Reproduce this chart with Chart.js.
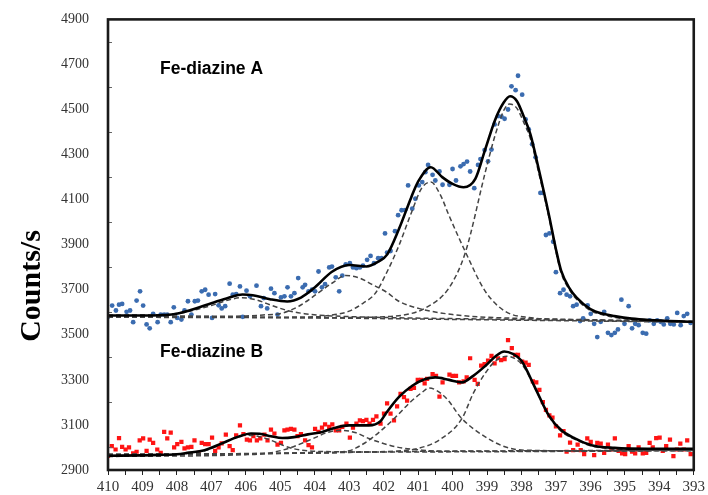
<!DOCTYPE html>
<html>
<head>
<meta charset="utf-8">
<title>N 1s — Fe-diazine</title>
<script src="https://cdn.jsdelivr.net/npm/chart.js@4/dist/chart.umd.min.js"></script>
<style>
  html, body { margin: 0; padding: 0; background: #fff; }
  #wrap { width: 708px; height: 495px; }
</style>
</head>
<body>
<div id="wrap"><canvas id="xps" width="708" height="495"></canvas></div>
<script>
// ------------------------------
// N 1s spectra, Fe-diazine A / B
// ------------------------------

// --- Axis ranges (binding energy, eV / counts per second) ---
const xMin = 393, xMax = 410;
const yMin = 2900, yMax = 4900;

// --- Sample labels ---
const labelA = 'Fe-diazine A';
const labelB = 'Fe-diazine B';
const yTitle = 'Counts/s';

// --- Measured points, sample A [eV, counts/s] ---
const pointsA = [
  [410.0,3580],[409.88,3630],[409.77,3608],[409.68,3634],[409.59,3637],[409.46,3602],[409.36,3608],[409.27,3556],
  [409.17,3652],[409.07,3693],[408.98,3630],[408.88,3546],[408.79,3529],[408.69,3593],[408.56,3556],[408.47,3590],
  [408.37,3590],[408.28,3590],[408.18,3556],[408.09,3622],[407.99,3575],[407.87,3568],[407.78,3608],[407.68,3649],
  [407.58,3590],[407.48,3649],[407.39,3652],[407.28,3693],[407.18,3700],[407.08,3678],[406.98,3575],[406.89,3681],
  [406.79,3631],[406.70,3617],[406.60,3627],[406.47,3727],[406.38,3678],[406.28,3681],[406.17,3715],[406.09,3580],
  [405.98,3696],[405.88,3671],[405.69,3718],[405.56,3627],[405.48,3663],[405.38,3617],[405.27,3705],[405.17,3685],
  [405.08,3590],[404.98,3666],[404.88,3671],[404.79,3711],[404.69,3671],[404.59,3685],[404.48,3752],[404.35,3711],
  [404.28,3722],[404.18,3693],[404.08,3700],[403.99,3693],[403.89,3781],[403.79,3711],[403.70,3725],[403.58,3799],
  [403.50,3803],[403.39,3755],[403.29,3693],[403.20,3763],[403.10,3813],[402.98,3818],[402.89,3799],[402.79,3796],
  [402.69,3799],[402.60,3807],[402.48,3833],[402.38,3850],[402.28,3818],[402.16,3840],[402.06,3840],[401.96,3950],
  [401.90,3865],[401.80,3872],[401.67,3960],[401.58,4031],[401.48,4053],[401.38,4053],[401.29,4163],[401.17,4060],
  [401.08,4104],[400.98,4163],[400.88,4178],[400.79,4222],[400.71,4254],[400.58,4210],[400.50,4185],[400.38,4225],
  [400.29,4166],[400.09,4166],[400.00,4236],[399.90,4185],[399.77,4248],[399.68,4258],[399.58,4269],[399.49,4225],
  [399.37,4151],[399.26,4254],[399.19,4280],[399.07,4320],[398.97,4270],[398.87,4322],[398.78,4434],[398.68,4471],
  [398.58,4468],[398.49,4459],[398.39,4500],[398.29,4603],[398.17,4586],[398.10,4650],[397.98,4566],[397.88,4456],
  [397.79,4412],[397.69,4346],[397.59,4288],[397.45,4130],[397.38,4130],[397.29,3943],[397.19,3950],[397.08,3913],
  [397.00,3778],[396.88,3685],[396.78,3700],[396.69,3678],[396.59,3671],[396.50,3627],[396.40,3634],[396.30,3561],
  [396.21,3573],[396.08,3631],[395.99,3593],[395.89,3549],[395.80,3490],[395.70,3558],[395.60,3602],[395.49,3509],
  [395.39,3499],[395.29,3509],[395.20,3524],[395.10,3656],[395.01,3549],[394.89,3627],[394.79,3529],[394.70,3549],
  [394.60,3543],[394.48,3509],[394.38,3505],[394.28,3564],[394.16,3549],[394.06,3564],[393.96,3558],[393.87,3546],
  [393.77,3573],[393.68,3549],[393.58,3546],[393.48,3597],[393.38,3543],[393.29,3583],[393.19,3593],[393.09,3553]
];

// --- Measured points, sample B [eV, counts/s] ---
const pointsB = [
  [410.0,2963],[409.89,3006],[409.78,2991],[409.68,3042],[409.59,3003],[409.49,2991],[409.39,3000],[409.27,2974],
  [409.17,2981],[409.08,3032],[408.98,3040],[408.88,2985],[408.79,3035],[408.69,3020],[408.57,2991],[408.47,2976],
  [408.37,3069],[408.28,3040],[408.18,3066],[408.08,3000],[407.99,3015],[407.87,3025],[407.78,2996],[407.68,3000],
  [407.58,3003],[407.49,3032],[407.37,2976],[407.28,3020],[407.18,3015],[407.08,3015],[406.98,3044],[406.89,2985],
  [406.79,3000],[406.70,3018],[406.58,3057],[406.47,3006],[406.38,2988],[406.28,3054],[406.17,3098],[406.07,3059],
  [405.97,3035],[405.88,3032],[405.78,3050],[405.68,3032],[405.58,3040],[405.46,3057],[405.37,3032],[405.27,3079],
  [405.17,3062],[405.08,3013],[404.98,3020],[404.88,3076],[404.79,3079],[404.69,3083],[404.59,3079],[404.50,3050],
  [404.40,3059],[404.28,3032],[404.18,3010],[404.08,3000],[403.99,3083],[403.89,3069],[403.79,3088],[403.70,3103],
  [403.58,3091],[403.49,3103],[403.39,3076],[403.29,3076],[403.20,3091],[403.08,3106],[402.98,3044],[402.89,3088],
  [402.79,3106],[402.69,3120],[402.60,3117],[402.50,3123],[402.41,3106],[402.31,3123],[402.21,3138],[402.09,3106],
  [401.99,3150],[401.90,3196],[401.80,3150],[401.70,3120],[401.61,3182],[401.51,3238],[401.41,3223],[401.32,3208],
  [401.22,3260],[401.12,3264],[401.01,3300],[400.91,3300],[400.81,3285],[400.74,3304],[400.58,3326],[400.48,3318],
  [400.38,3226],[400.29,3289],[400.09,3323],[400.00,3318],[399.90,3318],[399.81,3289],[399.68,3293],[399.59,3311],
  [399.49,3396],[399.36,3300],[399.27,3282],[399.17,3363],[399.07,3370],[398.97,3385],[398.87,3407],[398.78,3373],
  [398.68,3396],[398.59,3388],[398.49,3392],[398.39,3476],[398.28,3441],[398.18,3411],[398.10,3411],[397.98,3381],
  [397.88,3377],[397.79,3367],[397.67,3293],[397.57,3289],[397.48,3256],[397.38,3201],[397.29,3167],[397.19,3142],
  [397.10,3132],[397.00,3094],[396.88,3054],[396.78,3073],[396.69,2981],[396.59,3022],[396.50,2988],[396.37,3013],
  [396.28,2988],[396.18,2970],[396.09,3040],[395.99,3025],[395.89,2966],[395.80,3020],[395.70,3017],[395.60,2976],
  [395.49,3013],[395.39,2991],[395.29,3040],[395.18,2985],[395.08,2974],[394.99,2970],[394.89,3006],[394.79,2981],
  [394.70,2974],[394.60,3000],[394.48,2974],[394.38,2976],[394.28,3020],[394.19,3000],[394.09,3042],[393.99,3044],
  [393.90,2985],[393.80,3006],[393.69,3035],[393.59,2962],[393.49,2991],[393.39,3017],[393.29,2991],[393.19,3032],
  [393.09,2970]
];

// --- Envelope fits ---
const fitA = [
  [410,3586],[409,3586],[408.5,3587],[408.1,3591],[407.6,3610],[407.0,3640],[406.5,3665],[406.1,3679],[405.8,3676],
  [405.3,3658],[404.8,3648],[404.4,3665],[404.0,3710],[403.5,3780],[403.0,3810],[402.5,3803],[402.15,3825],[401.9,3856],
  [401.55,3972],[401.2,4110],[401.0,4180],[400.63,4244],[400.3,4200],[400.0,4170],[399.68,4155],[399.34,4192],
  [399.05,4324],[398.76,4456],[398.52,4530],[398.33,4559],[398.13,4537],[397.94,4471],[397.74,4390],[397.5,4236],
  [397.2,4030],[397.0,3880],[396.85,3785],[396.6,3705],[396.4,3665],[396.0,3614],[395.6,3592],[395.3,3583],
  [394.8,3572],[394.3,3566],[393,3558]
];
const fitB = [
  [410,2963],[409,2965],[408.5,2967],[408,2970],[407.7,2976],[407.2,2988],[406.7,3018],[406.23,3047],[405.85,3062],
  [405.6,3061],[405.27,3050],[404.94,3042],[404.6,3046],[404.2,3058],[403.78,3069],[403.4,3088],[403.0,3098],
  [402.43,3098],[402.1,3115],[401.94,3150],[401.56,3223],[401.17,3274],[400.79,3304],[400.5,3311],[400.1,3300],
  [399.73,3289],[399.4,3318],[399.05,3362],[398.75,3405],[398.5,3426],[398.25,3415],[398.0,3385],[397.61,3267],
  [397.2,3140],[396.84,3076],[396.45,3040],[395.97,3010],[395.3,2998],[394.33,2994],[393,2994]
];

// --- Background lines ---
const baseA = [[410,3586],[393,3556]];
const baseB = [[410,2963],[406,2972],[403,2980],[393,2988]];

// --- Component peaks, sample A ---
const peakA1 = [
  [410,3587],[409,3588],[408.2,3591],[407.6,3606],[407.0,3630],[406.5,3655],[406.1,3665],[405.7,3655],[405.2,3628],
  [404.8,3608],[404.3,3594],[403.5,3584],[402,3577],[399,3570],[393,3558]
];
const peakA2 = [
  [410,3583],[407,3582],[406,3584],[405.5,3588],[404.93,3597],[404.45,3628],[403.97,3678],[403.49,3730],[403.1,3763],
  [402.7,3752],[402.34,3724],[401.9,3688],[401.56,3649],[400.9,3614],[400.0,3590],[399,3578],[397,3570],[393,3560]
];
const peakA3 = [
  [410,3580],[406,3578],[404,3580],[403.5,3588],[403.0,3605],[402.6,3640],[402.25,3683],[401.9,3780],[401.56,3895],
  [401.2,4040],[400.9,4150],[400.63,4178],[400.35,4120],[400.11,4032],[399.63,3869],[399.05,3693],[398.48,3605],
  [397.8,3577],[396,3565],[393,3557]
];
const peakA4 = [
  [410,3578],[404,3576],[402,3580],[401.27,3592],[400.79,3619],[400.11,3707],[399.63,3865],[399.05,4222],[398.77,4383],
  [398.5,4500],[398.35,4525],[398.13,4505],[397.94,4445],[397.74,4370],[397.5,4220],[397.2,4020],[397.0,3870],
  [396.85,3775],[396.6,3698],[396.4,3658],[396.0,3608],[395.6,3587],[395.3,3578],[394.8,3568],[394.3,3563],[393,3556]
];

// --- Component peaks, sample B ---
const peakB1 = [
  [410,2963],[408.5,2966],[407.7,2972],[407.2,2985],[406.7,3015],[406.3,3045],[406.0,3055],[405.6,3048],[405.27,3032],
  [404.9,3008],[404.6,2994],[404.0,2983],[402,2980],[393,2986]
];
const peakB2 = [
  [410,2960],[406,2968],[405.3,2976],[404.74,2997],[404.16,3032],[403.58,3069],[403.2,3076],[402.8,3065],[402.43,3040],
  [401.65,3003],[400.88,2988],[400,2983],[393,2987]
];
const peakB3 = [
  [410,2970],[404,2975],[403,2985],[402.8,2998],[402.43,3032],[402.0,3085],[401.65,3135],[401.2,3205],[400.88,3245],
  [400.69,3264],[400.21,3223],[399.73,3128],[399.05,3047],[398.48,3003],[397.9,2988],[396,2985],[393,2987]
];
const peakB4 = [
  [410,2970],[403,2978],[401.5,2985],[401.0,2996],[400.4,3032],[399.73,3128],[399.4,3240],[399.05,3330],[398.75,3385],
  [398.43,3405],[398.1,3385],[397.9,3350],[397.6,3262],[397.2,3138],[396.85,3072],[396.45,3036],[396.0,3008],
  [395.5,2995],[395,2990],[393,2988]
];

// --- Helpers ---
const toXY = arr => arr.map(([x, y]) => ({ x, y }));

function pointSet(arr, color, style, radius) {
    return {
        type: 'scatter',
        data: toXY(arr),
        backgroundColor: color,
        borderWidth: 0,
        pointStyle: style,
        pointRadius: radius,
        order: 3
    };
}

function curve(arr, dashed) {
    return {
        type: 'line',
        data: toXY(arr),
        showLine: true,
        borderColor: dashed ? '#444' : '#000',
        borderWidth: dashed ? 1.5 : 2.6,
        borderDash: dashed ? [5, 3] : [],
        pointRadius: 0,
        fill: false,
        cubicInterpolationMode: 'monotone',
        order: dashed ? 2 : 1
    };
}

// --- Frame, inner y ticks and text labels ---
const decorPlugin = {
    id: 'decor',
    afterDatasetsDraw(chart) {
        const { ctx, chartArea: a, scales } = chart;
        ctx.save();

        // minor ticks on the inside of the left axis
        ctx.strokeStyle = '#666';
        ctx.lineWidth = 1;
        for (let v = yMin + 100; v < yMax; v += 200) {
            const y = Math.round(scales.y.getPixelForValue(v)) + 0.5;
            ctx.beginPath();
            ctx.moveTo(a.left, y);
            ctx.lineTo(a.left + 4, y);
            ctx.stroke();
        }

        // plot frame
        ctx.strokeStyle = '#1a1a1a';
        ctx.lineWidth = 2.6;
        ctx.strokeRect(a.left, a.top, a.right - a.left, a.bottom - a.top);

        // sample names
        ctx.fillStyle = '#000';
        ctx.font = 'bold 17.5px "Liberation Sans", Arial, sans-serif';
        ctx.textAlign = 'left';
        ctx.textBaseline = 'alphabetic';
        ctx.fillText(labelA, 160, 74);
        ctx.fillText(labelB, 160, 357);

        // y title
        ctx.translate(40, 286);
        ctx.rotate(-Math.PI / 2);
        ctx.textAlign = 'center';
        ctx.font = 'bold 30px "Liberation Serif", "Times New Roman", serif';
        ctx.fillText(yTitle, 0, 0);

        ctx.restore();
    }
};

// --- Chart ---
new Chart(document.getElementById('xps'), {
    type: 'scatter',
    data: {
        datasets: [
            pointSet(pointsA, '#3b6cb0', 'circle', 2.4),
            pointSet(pointsB, '#ff1414', 'rect', 3),
            curve(baseA, true),
            curve(peakA1, true),
            curve(peakA2, true),
            curve(peakA3, true),
            curve(peakA4, true),
            curve(baseB, true),
            curve(peakB1, true),
            curve(peakB2, true),
            curve(peakB3, true),
            curve(peakB4, true),
            curve(fitA, false),
            curve(fitB, false)
        ]
    },
    options: {
        responsive: false,
        animation: false,
        layout: { padding: { top: 16, right: 12, left: 0, bottom: 0 } },
        plugins: {
            legend: { display: false },
            tooltip: { enabled: false }
        },
        scales: {
            x: {
                type: 'linear',
                reverse: true,
                min: xMin,
                max: xMax,
                afterFit: s => { s.height = 25; },
                border: { display: false },
                grid: { drawOnChartArea: false, drawTicks: true, tickLength: 5, color: '#222', lineWidth: 1 },
                ticks: {
                    stepSize: 0.5,
                    autoSkip: false,
                    maxRotation: 0,
                    padding: 3,
                    color: '#333',
                    font: { family: '"Liberation Serif", "Times New Roman", serif', size: 15 },
                    callback: v => Number.isInteger(v) ? String(v) : ''
                }
            },
            y: {
                min: yMin,
                max: yMax,
                afterFit: s => { s.width = 108; },
                border: { display: false },
                grid: { display: false },
                ticks: {
                    stepSize: 200,
                    padding: 11,
                    color: '#333',
                    font: { family: '"Liberation Serif", "Times New Roman", serif', size: 14 },
                    callback: v => String(v)
                }
            }
        }
    },
    plugins: [decorPlugin]
});
</script>
</body>
</html>
